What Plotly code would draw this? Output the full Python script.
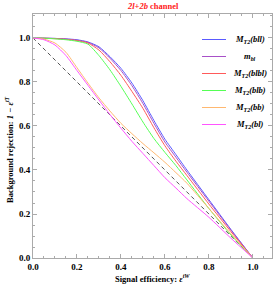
import plotly.graph_objects as go

eff = [0, 0.05, 0.1, 0.15, 0.2, 0.25, 0.3, 0.35, 0.4, 0.45, 0.5, 0.55, 0.6, 0.65, 0.7, 0.8, 0.9, 1.0]

mt2_bll  = [1.0, 0.999, 0.998, 0.996, 0.992, 0.982, 0.960, 0.915, 0.862, 0.795, 0.715, 0.625, 0.540, 0.470, 0.400, 0.265, 0.130, 0.0]
m_bl     = [1.0, 0.999, 0.998, 0.995, 0.990, 0.980, 0.955, 0.908, 0.852, 0.783, 0.702, 0.612, 0.527, 0.458, 0.390, 0.258, 0.127, 0.0]
mt2_blbl = [1.0, 0.999, 0.997, 0.994, 0.988, 0.977, 0.945, 0.892, 0.830, 0.757, 0.680, 0.592, 0.510, 0.440, 0.375, 0.245, 0.120, 0.0]
mt2_blb  = [1.0, 0.999, 0.996, 0.992, 0.985, 0.972, 0.920, 0.855, 0.780, 0.700, 0.618, 0.543, 0.480, 0.420, 0.355, 0.225, 0.105, 0.0]
mt2_bb   = [1.0, 0.995, 0.977, 0.935, 0.865, 0.795, 0.728, 0.668, 0.612, 0.565, 0.520, 0.478, 0.435, 0.388, 0.340, 0.225, 0.110, 0.0]
mt2_bl   = [1.0, 0.992, 0.968, 0.920, 0.852, 0.785, 0.718, 0.652, 0.590, 0.530, 0.475, 0.420, 0.365, 0.318, 0.270, 0.185, 0.090, 0.0]
diag_x = [0.0, 1.0]
diag_y = [1.0, 0.0]

names = ["<i>M</i><sub><i>T2</i></sub><i>(bll)</i>", "<i>m</i><sub><i>bl</i></sub>",
         "<i>M</i><sub><i>T2</i></sub><i>(blbl)</i>", "<i>M</i><sub><i>T2</i></sub><i>(blb)</i>",
         "<i>M</i><sub><i>T2</i></sub><i>(bb)</i>", "<i>M</i><sub><i>T2</i></sub><i>(bl)</i>"]
series = [mt2_bll, m_bl, mt2_blbl, mt2_blb, mt2_bb, mt2_bl]
colors = ["#5a5aff", "#a850c8", "#ff5a5a", "#55ff55", "#ffb870", "#ff55ff"]

FONT = "Liberation Serif"
fig = go.Figure()
fig.add_trace(go.Scatter(x=diag_x, y=diag_y, mode="lines",
                         line=dict(color="#555555", width=1, dash="4px,3px"), showlegend=False))
for ys, c in zip(series, colors):
    fig.add_trace(go.Scatter(x=eff, y=ys, mode="lines", line=dict(color=c, width=1, shape="spline", smoothing=0.6),
                             showlegend=False))

FW, FH = 275, 287
L, R, T, B = 33, 272, 14, 258
W, H = R - L, B - T

def px(xw):
    return (xw - L) / W

def py(yw):
    return (B - yw) / H

shapes = []
annots = []
for i, (n, c) in enumerate(zip(names, colors)):
    yw = 39.5 + 17 * i
    shapes.append(dict(type="line", xref="paper", yref="paper", x0=px(202), x1=px(226),
                       y0=py(yw), y1=py(yw), line=dict(color=c, width=1)))
    annots.append(dict(xref="paper", yref="paper", x=px(250), y=py(yw), text="<b>" + n + "</b>",
                       showarrow=False, xanchor="center", yanchor="middle",
                       font=dict(family=FONT, size=8.5, color="black")))

annots.append(dict(xref="paper", yref="paper", x=px(153), y=py(6), yanchor="middle", xanchor="center",
                   showarrow=False, text="<b><i>2l+2b</i> channel</b>",
                   font=dict(family=FONT, size=8.5, color="#ff2020")))
annots.append(dict(xref="paper", yref="paper", x=px(152), y=py(278), yanchor="middle", xanchor="center",
                   showarrow=False, text="<b>Signal efficiency: <i>ε</i><sup><i>tW</i></sup></b>",
                   font=dict(family=FONT, size=8.5, color="black")))
annots.append(dict(xref="paper", yref="paper", x=px(9), y=py(150), yanchor="middle", xanchor="center",
                   textangle=-90, showarrow=False,
                   text="<b>Background rejection: <i>1 − ε</i><sup><i>tT</i></sup></b>",
                   font=dict(family=FONT, size=8.5, color="black")))

axis_common = dict(showgrid=False, zeroline=False, showline=True, linecolor="#aaaaaa", linewidth=1,
                   mirror="ticks", ticks="inside", ticklen=4, tickcolor="#aaaaaa", tickwidth=1,
                   tickfont=dict(family=FONT, size=9, color="black", weight="bold"),
                   tickformat=".1f", dtick=0.2, tick0=0,
                   minor=dict(ticks="inside", ticklen=2, dtick=0.05, tickcolor="#aaaaaa", tickwidth=1))

fig.update_layout(
    width=FW, height=FH,
    margin=dict(l=L, r=FW - R, t=T, b=FH - B),
    paper_bgcolor="white", plot_bgcolor="white",
    xaxis=dict(range=[0, 1.087], **axis_common),
    yaxis=dict(range=[0, 1.109], **axis_common),
    shapes=shapes, annotations=annots, showlegend=False,
)

fig.write_html("out.html", config={"displayModeBar": False},
               post_script="document.body.style.margin='0';document.body.style.overflow='hidden';")
